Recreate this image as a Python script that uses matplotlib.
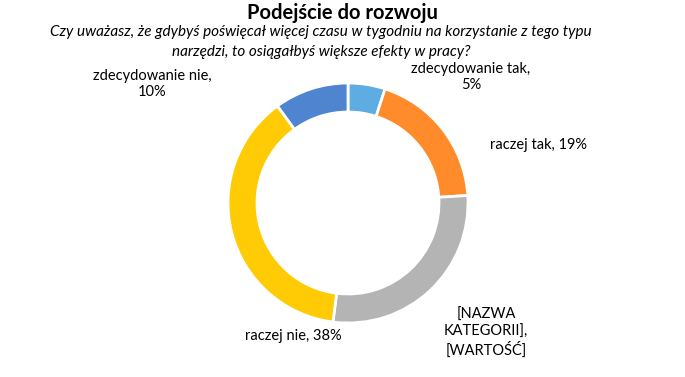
import matplotlib.pyplot as plt

labels = ["zdecydowanie tak", "raczej tak", "[NAZWA KATEGORII]", "raczej nie", "zdecydowanie nie"]
values = [5, 19, 28, 38, 10]
colors = ["#5DADE2", "#FF8B2B", "#B4B4B4", "#FFCB05", "#4F84D0"]

plt.rcParams['font.family'] = ['Lato', 'DejaVu Sans']

W, H = 685, 377
fig = plt.figure(figsize=(W / 100, H / 100), dpi=100)
ax = fig.add_axes([0, 0, 1, 1])

ax.pie(values, colors=colors, startangle=90, counterclock=False,
       center=(348, H - 203), radius=120, frame=True,
       wedgeprops=dict(width=29, edgecolor='white', linewidth=2))
ax.set_xlim(0, W)
ax.set_ylim(0, H)
ax.set_aspect('equal')
ax.axis('off')

def px(x, y):
    return x / W, 1 - y / H

fig.text(*px(342, 13), "Podejście do rozwoju", ha='center', va='center',
         fontsize=14.5, fontweight='bold')
fig.text(*px(321, 32), "Czy uważasz, że gdybyś poświęcał więcej czasu w tygodniu na korzystanie z tego typu",
         ha='center', va='center', fontsize=11, style='italic')
fig.text(*px(321, 52), "narzędzi, to osiągałbyś większe efekty w pracy?",
         ha='center', va='center', fontsize=11, style='italic')

lab_kw = dict(ha='center', va='center', fontsize=10.5, linespacing=1.25)
fig.text(*px(471, 77), f"{labels[0]},\n{values[0]}%", **lab_kw)
fig.text(*px(538, 145), f"{labels[1]}, {values[1]}%", **lab_kw)
fig.text(*px(486, 333), "[NAZWA\nKATEGORII],\n[WARTOŚĆ]", **lab_kw)
fig.text(*px(293, 336), f"{labels[3]}, {values[3]}%", **lab_kw)
fig.text(*px(152, 84), f"{labels[4]},\n{values[4]}%", **lab_kw)

fig.savefig("out.png", dpi=100)
